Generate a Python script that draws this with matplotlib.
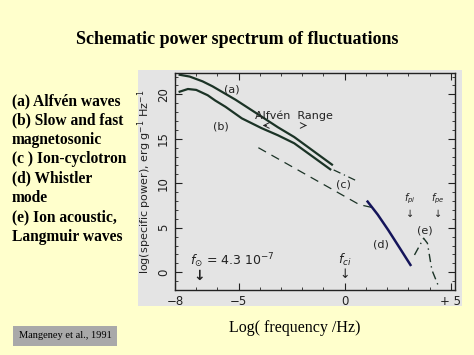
import numpy as np
import matplotlib.pyplot as plt
from matplotlib.patches import Rectangle
from matplotlib.ticker import MultipleLocator, FixedLocator

# schematic spectrum (log f, log power)
alfven_x = [-7.78, -7.31, -6.7, -6.23, -5.15, -3.92, -3.15, -2.38, -0.6]
alfven_y = [22.2, 22.0, 21.46, 20.9, 19.4, 17.5, 16.3, 15.2, 12.1]

magneto_x = [-7.78, -7.39, -7.0, -6.46, -6.1, -5.62, -4.85, -3.92, -3.15, -2.38, -0.68]
magneto_y = [20.3, 20.6, 20.5, 19.9, 19.3, 18.6, 17.3, 16.2, 15.4, 14.5, 11.57]

cyclo_ext_x = [-0.52, 0.63]
cyclo_ext_y = [11.5, 10.2]

lower_x = [-4.07, 0.69, 1.25]
lower_y = [14.0, 7.6, 7.3]

whistler_x = [1.08, 1.55, 2.05, 2.6, 3.1]
whistler_y = [7.94, 6.5, 4.75, 2.7, 0.82]

acoustic_x = [3.29, 3.72, 3.9, 4.03, 4.11, 4.46]
acoustic_y = [1.94, 3.82, 3.26, 1.38, 0.26, -1.8]

legend_lines = ["(a) Alfvén waves", "(b) Slow and fast", "magnetosonic",
                "(c ) Ion-cyclotron", "(d) Whistler", "mode",
                "(e) Ion acoustic,", "Langmuir waves"]

bg = "#ffffcc"
ink = "#1b3326"
txt = "#222222"

fig = plt.figure(figsize=(4.74, 3.55), dpi=100, facecolor=bg)

# grey scan panel, behind the axes
fig.patches.append(Rectangle((138 / 474, 1 - 306 / 355), 324 / 474, 236 / 355,
                             transform=fig.transFigure, facecolor="#e4e4e4",
                             edgecolor="none", zorder=-1))

ax = fig.add_axes([175 / 474, 1 - 290 / 355, 280 / 474, 217 / 355])
ax.set_zorder(1)
ax.set_facecolor("#e4e4e4")
ax.set_xlim(-8, 5.2)
ax.set_ylim(-2, 22.4)

ax.plot(alfven_x, alfven_y, color=ink, lw=1.6)
ax.plot(magneto_x, magneto_y, color=ink, lw=1.6)
ax.plot(cyclo_ext_x, cyclo_ext_y, color=ink, lw=0.9, dashes=(6, 3, 1, 3))
ax.plot(lower_x, lower_y, color=ink, lw=0.9, dashes=(7, 5))
ax.plot(whistler_x, whistler_y, color="#14145a", lw=1.8)
ax.plot(acoustic_x, acoustic_y, color=ink, lw=1.0, dashes=(6, 3, 1, 3))

lab = dict(fontsize=8, color=txt, ha="center", va="center")
ax.text(-5.31, 20.6, "(a)", **lab)
ax.text(-5.85, 16.4, "(b)", **lab)
ax.text(-2.4, 17.6, "Alfvén  Range", **lab)
ax.annotate("", xy=(-4.0, 16.5), xytext=(-3.55, 16.5),
            arrowprops=dict(arrowstyle="->", color=txt, lw=0.7))
ax.annotate("", xy=(-1.65, 16.5), xytext=(-2.0, 16.5),
            arrowprops=dict(arrowstyle="->", color=txt, lw=0.7))
ax.text(-0.06, 9.9, "(c)", **lab)
ax.text(1.69, 3.1, "(d)", **lab)
ax.text(3.8, 4.7, "(e)", **lab)
ax.text(3.09, 8.2, "$f_{pi}$", fontsize=7, color=txt, ha="center", va="center")
ax.text(4.38, 8.2, "$f_{pe}$", fontsize=7, color=txt, ha="center", va="center")
ax.text(3.09, 6.6, "↓", fontsize=7, color=txt, ha="center", va="center")
ax.text(4.38, 6.6, "↓", fontsize=7, color=txt, ha="center", va="center")
ax.text(0.0, 1.4, "$f_{ci}$", fontsize=9, color=txt, ha="center", va="center")
ax.text(0.0, -0.3, "↓", fontsize=9, color=txt, ha="center", va="center")
ax.text(-7.3, 1.3, r"$f_{\odot}$ = $4.3\ 10^{-7}$", fontsize=9, color=txt,
        ha="left", va="center", style="italic")
ax.text(-6.85, -0.4, "↓", fontsize=10, color=txt, ha="center", va="center",
        fontweight="bold")

ax.xaxis.set_major_locator(FixedLocator([-8, -5, 0, 5]))
ax.set_xticklabels(["−8", "−5", "0", "+ 5"])
ax.xaxis.set_minor_locator(MultipleLocator(1))
ax.yaxis.set_major_locator(MultipleLocator(5))
ax.yaxis.set_minor_locator(MultipleLocator(1))
ax.tick_params(which="both", direction="in", top=True, right=True,
               labelsize=8.5, colors=txt)
ax.tick_params(which="major", length=5)
ax.tick_params(which="minor", length=2.5)
ax.tick_params(axis="y", labelrotation=90)
for t in ax.get_yticklabels():
    t.set_va("center")
for s in ax.spines.values():
    s.set_color(txt)
    s.set_linewidth(1.0)
ax.set_ylabel("log(specific power), erg g$^{-1}$ Hz$^{-1}$", fontsize=8,
              color=txt, labelpad=2)

serif = "Liberation Serif"
fig.text(237 / 474, 1 - 40 / 355, "Schematic power spectrum of fluctuations",
         family=serif, fontsize=13, fontweight="bold", ha="center", va="center")

for i, line in enumerate(legend_lines):
    fig.text(12 / 474, 1 - (101 + i * 19.4) / 355, line, family=serif,
             fontsize=11.2, fontweight="bold", ha="left", va="center")

fig.text(295 / 474, 1 - 328 / 355, "Log( frequency /Hz)", family=serif,
         fontsize=11.5, ha="center", va="center")
fig.text(65 / 474, 1 - 336 / 355, "Mangeney et al., 1991", family=serif,
         fontsize=7.5, ha="center", va="center",
         bbox=dict(boxstyle="square,pad=0.5", facecolor="#a9a9a9",
                   edgecolor="none"))

fig.savefig("out.png", dpi=100, facecolor=bg)
